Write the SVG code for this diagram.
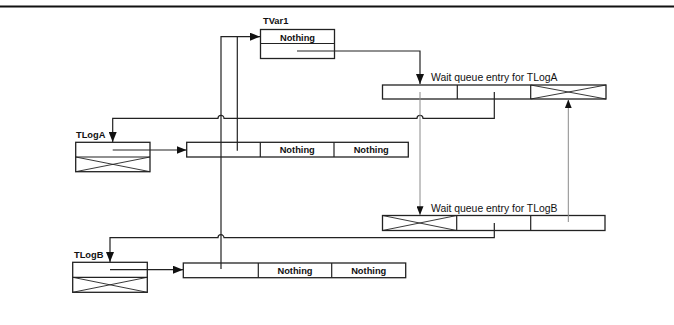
<svg xmlns="http://www.w3.org/2000/svg" width="674" height="325" viewBox="0 0 674 325">
<defs>
<style>
.box{fill:#fff;stroke:#222;stroke-width:1.3}
.cell{fill:none;stroke:#222;stroke-width:1.2}
.x{fill:none;stroke:#222;stroke-width:0.9}
.c{fill:none;stroke:#222;stroke-width:1.2}
.g{fill:none;stroke:#8a8a8a;stroke-width:1}
.t{font-family:"Liberation Sans",Arial,sans-serif;font-size:10.4px;fill:#111}
.n{font-family:"Liberation Sans",Arial,sans-serif;font-size:9.3px;font-weight:bold;fill:#111;text-anchor:middle}
.l{font-family:"Liberation Sans",Arial,sans-serif;font-size:9.3px;font-weight:bold;fill:#111}
</style>
<marker id="a" viewBox="0 0 10 8" refX="10" refY="4" markerWidth="10" markerHeight="8" markerUnits="userSpaceOnUse" orient="auto">
<path d="M0,0 L10,4 L0,8 Z" fill="#111"/>
</marker>
<marker id="ag" viewBox="0 0 10 8" refX="10" refY="4" markerWidth="9" markerHeight="7" markerUnits="userSpaceOnUse" orient="auto">
<path d="M0,0 L10,4 L0,8 Z" fill="#111"/>
</marker>
</defs>
<rect width="674" height="325" fill="#fff"/>
<line x1="0" y1="6.5" x2="674" y2="6.5" stroke="#111" stroke-width="2"/>

<g id="tvar1">
<text class="l" x="263" y="24">TVar1</text>
<rect class="box" x="260.5" y="29.5" width="74" height="29"/>
<line class="cell" x1="260.5" y1="43.5" x2="334.5" y2="43.5"/>
<text class="n" x="297.5" y="40.5">Nothing</text>
</g>

<g id="waitA">
<text class="t" x="431" y="80.5">Wait queue entry for TLogA</text>
<rect class="box" x="382.5" y="85" width="223.5" height="14"/>
<line class="cell" x1="457.3" y1="85" x2="457.3" y2="99"/>
<line class="cell" x1="530.7" y1="85" x2="530.7" y2="99"/>
<path class="x" d="M530.7,85 L606,99 M530.7,99 L606,85"/>
</g>

<g id="waitB">
<text class="t" x="431" y="211.5">Wait queue entry for TLogB</text>
<rect class="box" x="382.5" y="215.5" width="222.5" height="15"/>
<line class="cell" x1="456.7" y1="215.5" x2="456.7" y2="230.5"/>
<line class="cell" x1="530.7" y1="215.5" x2="530.7" y2="230.5"/>
<path class="x" d="M382.5,215.5 L456.7,230.5 M382.5,230.5 L456.7,215.5"/>
</g>

<g id="tlogA">
<text class="l" x="76" y="137.5">TLogA</text>
<rect class="box" x="75.7" y="142.3" width="74.3" height="29.4"/>
<line class="cell" x1="75.7" y1="157" x2="150" y2="157"/>
<path class="x" d="M75.7,157 L150,171.7 M75.7,171.7 L150,157"/>
</g>

<g id="listA">
<rect class="box" x="186.7" y="142.3" width="221.6" height="14.7"/>
<line class="cell" x1="260.3" y1="142.3" x2="260.3" y2="157"/>
<line class="cell" x1="334" y1="142.3" x2="334" y2="157"/>
<text class="n" x="297.2" y="153.2">Nothing</text>
<text class="n" x="371.2" y="153.2">Nothing</text>
</g>

<g id="tlogB">
<text class="l" x="74" y="258">TLogB</text>
<rect class="box" x="72.7" y="262.3" width="74.6" height="30"/>
<line class="cell" x1="72.7" y1="277.3" x2="147.3" y2="277.3"/>
<path class="x" d="M72.7,277.3 L147.3,292.3 M72.7,292.3 L147.3,277.3"/>
</g>

<g id="listB">
<rect class="box" x="183.3" y="263" width="222.4" height="14.7"/>
<line class="cell" x1="258.3" y1="263" x2="258.3" y2="277.7"/>
<line class="cell" x1="331.7" y1="263" x2="331.7" y2="277.7"/>
<text class="n" x="295" y="274">Nothing</text>
<text class="n" x="368.7" y="274">Nothing</text>
</g>

<g id="connectors">
<path class="c" d="M297,51 H420 V84" marker-end="url(#a)"/>
<path class="c" d="M221,269 V36.7 H260" marker-end="url(#a)"/>
<path class="c" d="M237.3,150.7 V36.7"/>
<path class="c" d="M494.3,92 V118.3 H423 A3,3 0 0 0 417,118.3 H224 A3,3 0 0 0 218,118.3 H112.7 V142" marker-end="url(#a)"/>
<path class="c" d="M494.3,223 V237.7 H224 A3,3 0 0 0 218,237.7 H110 V262" marker-end="url(#a)"/>
<path class="c" d="M112.7,150 H186.5" marker-end="url(#a)"/>
<path class="c" d="M110,269.7 H183" marker-end="url(#a)"/>
<path class="g" d="M420,92 V215" marker-end="url(#ag)"/>
<path class="g" d="M568.3,222 V99.5" marker-end="url(#ag)"/>
</g>
</svg>
